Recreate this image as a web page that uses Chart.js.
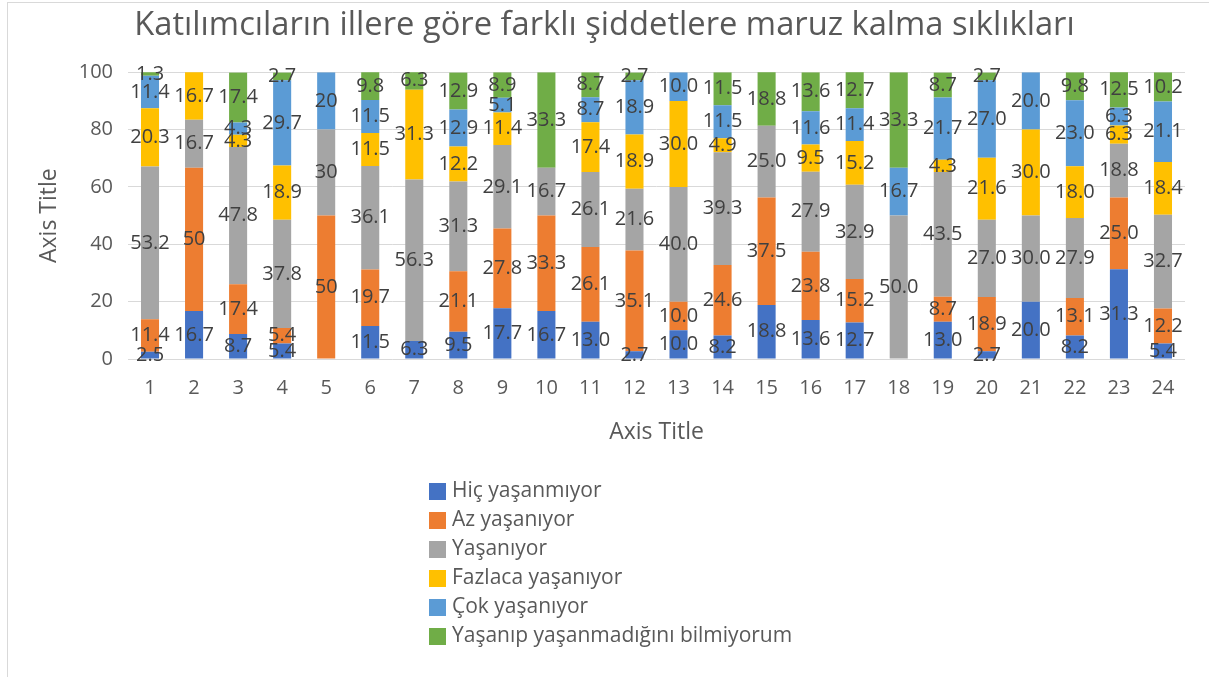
<!DOCTYPE html>
<html>
<head>
<meta charset="utf-8">
<script src="https://cdn.jsdelivr.net/npm/chart.js@4/dist/chart.umd.min.js"></script>
<style>
  html, body { margin: 0; padding: 0; background: #fff; }
  #wrap { position: relative; width: 1209px; height: 677px; overflow: hidden; }
  #frame { position: absolute; left: 7px; top: 2px; width: 1210px; height: 700px; border: 1px solid #d9d9d9; box-sizing: border-box; }
  canvas { position: absolute; left: 0; top: 0; }
</style>
</head>
<body>
<div id="wrap">
  <div id="frame"></div>
  <canvas id="chart" width="1209" height="677"></canvas>
</div>
<script>
const chartTitle = 'Katılımcıların illere göre farklı şiddetlere maruz kalma sıklıkları';

const categories = ['1','2','3','4','5','6','7','8','9','10','11','12','13','14','15','16','17','18','19','20','21','22','23','24'];

// categories whose labels show without a forced decimal (e.g. "50", "20")
const plainLabelCats = ['2', '5'];

const seriesNames = [
  'Hiç yaşanmıyor',
  'Az yaşanıyor',
  'Yaşanıyor',
  'Fazlaca yaşanıyor',
  'Çok yaşanıyor',
  'Yaşanıp yaşanmadığını bilmiyorum'
];

const hicYasanmiyor = [2.5, 16.7, 8.7, 5.4, null, 11.5, 6.3, 9.5, 17.7, 16.7, 13.0, 2.7, 10.0, 8.2, 18.8, 13.6, 12.7, null, 13.0, 2.7, 20.0, 8.2, 31.3, 5.4];
const azYasaniyor = [11.4, 50, 17.4, 5.4, 50, 19.7, null, 21.1, 27.8, 33.3, 26.1, 35.1, 10.0, 24.6, 37.5, 23.8, 15.2, null, 8.7, 18.9, null, 13.1, 25.0, 12.2];
const yasaniyor = [53.2, 16.7, 47.8, 37.8, 30, 36.1, 56.3, 31.3, 29.1, 16.7, 26.1, 21.6, 40.0, 39.3, 25.0, 27.9, 32.9, 50.0, 43.5, 27.0, 30.0, 27.9, 18.8, 32.7];
const fazlacaYasaniyor = [20.3, 16.7, 4.3, 18.9, null, 11.5, 31.3, 12.2, 11.4, null, 17.4, 18.9, 30.0, 4.9, null, 9.5, 15.2, null, 4.3, 21.6, 30.0, 18.0, 6.3, 18.4];
const cokYasaniyor = [11.4, null, 4.3, 29.7, 20, 11.5, null, 12.9, 5.1, null, 8.7, 18.9, 10.0, 11.5, null, 11.6, 11.4, 16.7, 21.7, 27.0, 20.0, 23.0, 6.3, 21.1];
const bilmiyorum = [1.3, null, 17.4, 2.7, null, 9.8, 6.3, 12.9, 8.9, 33.3, 8.7, 2.7, null, 11.5, 18.8, 13.6, 12.7, 33.3, 8.7, 2.7, null, 9.8, 12.5, 10.2];

const yTicks = [0, 20, 40, 60, 80, 100];

const seriesColors = ['#4472C4', '#ED7D31', '#A5A5A5', '#FFC000', '#5B9BD5', '#70AD47'];
const seriesValues = [hicYasanmiyor, azYasaniyor, yasaniyor, fazlacaYasaniyor, cokYasaniyor, bilmiyorum];

const FONT = "'Open Sans', 'Noto Sans', sans-serif";

// values printed in the middle of each stacked segment
const segmentLabels = {
  id: 'segmentLabels',
  afterDatasetsDraw(chart) {
    const ctx = chart.ctx;
    ctx.save();
    ctx.font = '20px ' + FONT;
    ctx.fillStyle = '#404040';
    ctx.textAlign = 'center';
    ctx.textBaseline = 'middle';
    chart.data.datasets.forEach((ds, di) => {
      const meta = chart.getDatasetMeta(di);
      meta.data.forEach((bar, i) => {
        const v = ds.data[i];
        if (v === null || v === undefined) return;
        const txt = plainLabelCats.includes(categories[i]) ? String(v) : v.toFixed(1);
        ctx.fillText(txt, bar.x, (bar.y + bar.base) / 2);
      });
    });
    ctx.restore();
  }
};

// vertical legend under the plot, like the Excel original
const stackedLegend = {
  id: 'stackedLegend',
  afterDraw(chart) {
    const ctx = chart.ctx;
    ctx.save();
    ctx.font = '21px ' + FONT;
    ctx.textBaseline = 'middle';
    ctx.textAlign = 'left';
    chart.data.datasets.forEach((ds, i) => {
      const cy = 491 + i * 29;
      ctx.fillStyle = ds.backgroundColor;
      ctx.fillRect(429, cy - 8, 17, 17);
      ctx.fillStyle = '#595959';
      ctx.fillText(ds.label, 452, cy);
    });
    ctx.restore();
  }
};

new Chart(document.getElementById('chart').getContext('2d'), {
  type: 'bar',
  data: {
    labels: categories,
    datasets: seriesNames.map((name, i) => ({
      label: name,
      data: seriesValues[i],
      backgroundColor: seriesColors[i],
      borderWidth: 0,
      categoryPercentage: 1,
      barPercentage: 0.41
    }))
  },
  options: {
    responsive: false,
    animation: false,
    layout: { padding: { left: 24, right: 24, top: 0, bottom: 230 } },
    plugins: {
      legend: { display: false },
      tooltip: { enabled: false },
      title: {
        display: true,
        text: chartTitle,
        color: '#595959',
        font: { family: FONT, size: 32.7, weight: 'normal' },
        padding: { top: 6, bottom: 27 }
      }
    },
    scales: {
      x: {
        stacked: true,
        grid: { display: false },
        border: { display: false },
        ticks: { color: '#595959', font: { family: FONT, size: 20 }, padding: 9, maxRotation: 0, autoSkip: false },
        title: { display: true, text: 'Axis Title', color: '#595959', font: { family: FONT, size: 23 }, padding: { top: 0, bottom: 1 } },
        afterFit(scale) { scale.height = 88; }
      },
      y: {
        stacked: true,
        min: 0,
        max: 100,
        afterBuildTicks(scale) { scale.ticks = yTicks.map(v => ({ value: v })); },
        grid: { color: '#d9d9d9', lineWidth: 1, drawTicks: false },
        border: { display: false },
        ticks: { color: '#595959', font: { family: FONT, size: 20 }, padding: 15 },
        title: { display: true, text: 'Axis Title', color: '#595959', font: { family: FONT, size: 23 }, padding: { top: 12, bottom: 0 } },
        afterFit(scale) { scale.width = 104; }
      }
    }
  },
  plugins: [segmentLabels, stackedLegend]
});
</script>
</body>
</html>
